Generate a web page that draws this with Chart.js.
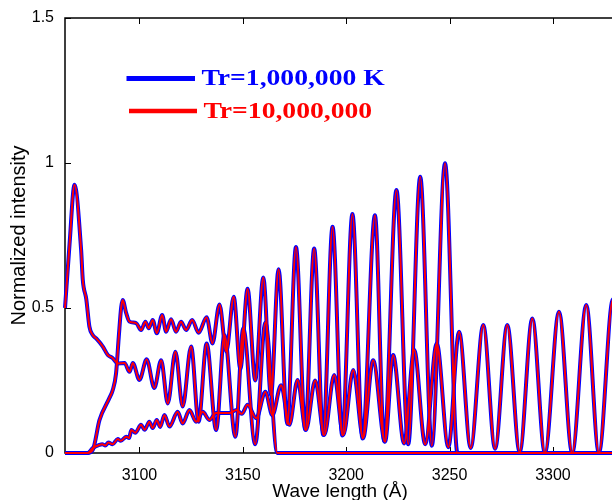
<!DOCTYPE html>
<html>
<head>
<meta charset="utf-8">
<script src="https://cdn.jsdelivr.net/npm/chart.js@4.4.1/dist/chart.umd.min.js"></script>
<style>
  html, body { margin: 0; padding: 0; background: #fff; }
  #wrap { width: 612px; height: 500px; overflow: hidden; }
</style>
</head>
<body>
<div id="wrap"><canvas id="spec" width="640" height="500"></canvas></div>
<script>
// [wavelength (Å), normalized intensity] at the turning points of each branch
const branchA = [
  [3064, 0], [3074.9, 0], [3077.4, 0.01], [3080.7, 0.114], [3085.5, 0.19], [3087.1, 0.217],
  [3088.7, 0.275], [3090.0, 0.40], [3091.2, 0.504], [3091.9, 0.528], [3093.6, 0.482],
  [3095.2, 0.453], [3098.4, 0.448], [3100.8, 0.424], [3102.9, 0.453], [3104.5, 0.43],
  [3106.4, 0.459], [3108.4, 0.413], [3111.0, 0.476], [3112.9, 0.418], [3115.3, 0.461],
  [3117.7, 0.418], [3120.1, 0.453], [3122.6, 0.424], [3125.5, 0.459], [3128.6, 0.415],
  [3132.5, 0.468], [3135.3, 0.378], [3138.7, 0.512], [3142.0, 0.35], [3145.6, 0.539],
  [3148.8, 0.29], [3152.3, 0.566], [3156.0, 0.25], [3159.9, 0.605], [3163.6, 0.2],
  [3167.3, 0.634], [3171.5, 0.1], [3175.7, 0.71], [3180.2, 0.08], [3184.5, 0.705],
  [3188.9, 0.062], [3193.4, 0.78], [3198.1, 0.06], [3203.0, 0.824], [3207.9, 0.05],
  [3213.9, 0.82], [3218.4, 0.04], [3224.3, 0.907], [3230.0, 0.03], [3235.8, 0.953],
  [3241.4, 0.025], [3247.8, 0.999], [3253.8, 0], [3330, 0]
];
const branchB = [
  [3064, 0.50], [3066.2, 0.72], [3068.6, 0.925], [3071.8, 0.70], [3072.6, 0.597],
  [3074.3, 0.53], [3075.8, 0.436], [3077.4, 0.407], [3079.1, 0.395], [3082.3, 0.367],
  [3084.7, 0.338], [3087.1, 0.327], [3089.5, 0.309], [3092.8, 0.31], [3095.2, 0.28],
  [3096.8, 0.31], [3100, 0.252], [3103.5, 0.323], [3107.2, 0.224], [3110.5, 0.32],
  [3113.7, 0.171], [3117.4, 0.349], [3120.9, 0.16], [3125.0, 0.367], [3128.6, 0.108],
  [3132.5, 0.378], [3137.1, 0.079], [3141.1, 0.407], [3146.4, 0.056], [3150.2, 0.43],
  [3156.0, 0.03], [3160.9, 0.45], [3166.7, 0], [3330, 0]
];
const branchC = [
  [3064, 0], [3075, 0], [3077.4, 0.017], [3080.7, 0.028], [3082, 0.03], [3083.5, 0.026],
  [3085, 0.036], [3087, 0.03], [3089.5, 0.048], [3091, 0.042], [3093.6, 0.056], [3095, 0.052],
  [3096.1, 0.079], [3098, 0.07], [3100.8, 0.097], [3102.5, 0.08], [3104.8, 0.108],
  [3106.4, 0.086], [3108.4, 0.114], [3110, 0.09], [3112.1, 0.131], [3114.5, 0.091],
  [3118.5, 0.142], [3120.9, 0.102], [3124.2, 0.148], [3127.4, 0.108], [3130.6, 0.142],
  [3133.8, 0.114], [3137, 0.138], [3143.5, 0.138], [3147.0, 0.148], [3149.5, 0.135],
  [3152.3, 0.166], [3156.5, 0.12], [3160.9, 0.211], [3164.3, 0.13], [3168.5, 0.234],
  [3172.5, 0.097], [3176.5, 0.252], [3180.5, 0.079], [3185.0, 0.25], [3189.4, 0.062],
  [3194.2, 0.269], [3198.6, 0.062], [3203.4, 0.286], [3208.2, 0.052], [3213.0, 0.32],
  [3218.8, 0.039], [3222.7, 0.338], [3228.0, 0.033], [3232.9, 0.355], [3238.2, 0.03],
  [3243.8, 0.378], [3249.4, 0.02], [3254.6, 0.418], [3260.2, 0.017], [3266.3, 0.441],
  [3272.0, 0.015], [3277.9, 0.441], [3283.9, 0.003], [3290.0, 0.464], [3296.1, 0],
  [3302.9, 0.487], [3309.3, 0], [3316.1, 0.51], [3322.2, 0], [3329, 0.53], [3335, 0.3]
];

const xTicks = [3100, 3150, 3200, 3250, 3300];
const yTicks = [0, 0.5, 1, 1.5];
const seriesNames = ['Tr=1,000,000 K', 'Tr=10,000,000'];
const seriesColors = ['#0000ff', '#ff0000'];

function pts(branch) {
  return branch.map(p => ({ x: p[0], y: p[1] }));
}

function curve(branch, idx) {
  return {
    label: seriesNames[idx],
    data: pts(branch),
    borderColor: seriesColors[idx],
    borderWidth: idx === 0 ? 4 : 2,
    pointRadius: 0,
    fill: false,
    cubicInterpolationMode: 'monotone',
    clip: 4,
    order: idx === 0 ? 1 : 0
  };
}

let datasets = [];
[branchA, branchB, branchC].forEach(b => {
  datasets.push(curve(b, 0));
  datasets.push(curve(b, 1));
});

// box, inward ticks and the in-plot legend
const frame = {
  id: 'frame',
  beforeDatasetsDraw(chart) {
    let ctx = chart.ctx;
    let a = chart.chartArea;
    let x = chart.scales.x, y = chart.scales.y;
    ctx.save();
    ctx.strokeStyle = '#000';
    ctx.lineWidth = 1.5;
    ctx.strokeRect(a.left, a.top, a.right - a.left, a.bottom - a.top);
    ctx.lineWidth = 1;
    ctx.beginPath();
    xTicks.forEach(v => {
      let px = Math.round(x.getPixelForValue(v)) + 0.5;
      ctx.moveTo(px, a.bottom); ctx.lineTo(px, a.bottom - 6);
      ctx.moveTo(px, a.top); ctx.lineTo(px, a.top + 6);
    });
    yTicks.forEach(v => {
      let py = Math.round(y.getPixelForValue(v)) + 0.5;
      ctx.moveTo(a.left, py); ctx.lineTo(a.left + 6, py);
    });
    ctx.stroke();
    ctx.restore();
  },
  afterDatasetsDraw(chart) {
    let ctx = chart.ctx;
    let rows = [
      { x0: 126.5, x1: 195, ly: 78.5, lw: 5, tx: 201.5, ty: 84.5 },
      { x0: 129, x1: 197, ly: 111, lw: 4.3, tx: 203.5, ty: 117.5 }
    ];
    ctx.save();
    rows.forEach((r, i) => {
      ctx.strokeStyle = seriesColors[i];
      ctx.lineWidth = r.lw;
      ctx.beginPath();
      ctx.moveTo(r.x0, r.ly); ctx.lineTo(r.x1, r.ly);
      ctx.stroke();
      ctx.save();
      ctx.translate(r.tx, r.ty);
      ctx.scale(1.15, 1);
      ctx.font = 'bold 24px "Liberation Serif"';
      ctx.fillStyle = seriesColors[i];
      ctx.textBaseline = 'alphabetic';
      ctx.fillText(seriesNames[i], 0, 0);
      ctx.restore();
    });
    ctx.restore();
  }
};

new Chart(document.getElementById('spec'), {
  type: 'line',
  data: { datasets },
  options: {
    responsive: false,
    animation: false,
    devicePixelRatio: 1,
    events: [],
    layout: { padding: { left: 0, top: 18, right: 25, bottom: 0 } },
    plugins: { legend: { display: false }, tooltip: { enabled: false } },
    scales: {
      x: {
        type: 'linear',
        min: 3064,
        max: 3330,
        grid: { display: false },
        border: { display: false },
        afterBuildTicks: s => { s.ticks = xTicks.map(v => ({ value: v })); },
        afterFit: s => { s.height = 47; },
        ticks: {
          padding: 5,
          color: '#000',
          font: { family: 'Liberation Sans', size: 16 },
          maxRotation: 0,
          callback: v => String(v)
        },
        title: {
          display: true,
          text: 'Wave length (Å)',
          color: '#000',
          font: { family: 'Liberation Sans', size: 19, lineHeight: 0.9 },
          padding: 0
        }
      },
      y: {
        min: 0,
        max: 1.5,
        grid: { display: false },
        border: { display: false },
        afterBuildTicks: s => { s.ticks = yTicks.map(v => ({ value: v })); },
        afterFit: s => { s.width = 65; },
        ticks: {
          padding: 3,
          color: '#000',
          font: { family: 'Liberation Sans', size: 16 },
          callback: v => String(v)
        },
        title: {
          display: true,
          text: 'Normalized intensity',
          color: '#000',
          font: { family: 'Liberation Sans', size: 20 },
          padding: { top: 7.5, bottom: 0 }
        }
      }
    }
  },
  plugins: [frame]
});
</script>
</body>
</html>
